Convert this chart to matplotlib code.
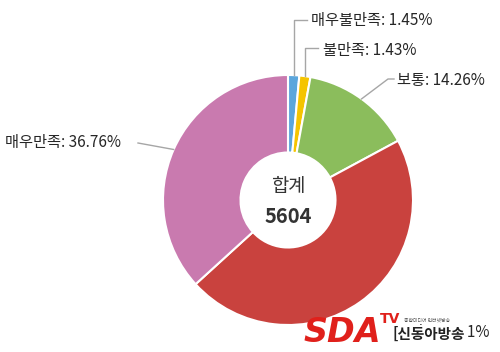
import numpy as np
import matplotlib
matplotlib.use("Agg")
from matplotlib import pyplot as plt

plt.rcParams['font.family'] = ['Noto Sans CJK KR', 'DejaVu Sans']

labels = ['매우불만족', '불만족', '보통', '만족', '매우만족']
values = [1.45, 1.43, 14.26, 46.10, 36.76]
pct_text = ['1.45%', '1.43%', '14.26%', '46.1%', '36.76%']
colors = ['#5ba6dc', '#f5c400', '#8bbd5c', '#c9423e', '#c97aaf']
total = 5604

W, H = 500, 352
fig = plt.figure(figsize=(W / 100, H / 100), dpi=100)

def fx(px):
    return px / W

def fy(py):
    return 1 - py / H

# pie centre (288, 200) px, radius 125 px
cx, cy, r = 288, 200, 125
ax = fig.add_axes([fx(cx - r), fy(cy + r), 2 * r / W, 2 * r / H])
wedges, _ = ax.pie(values, colors=colors, startangle=90, counterclock=False,
                   radius=1, wedgeprops=dict(width=0.62, edgecolor='white', linewidth=1.5))
ax.set_xlim(-1, 1)
ax.set_ylim(-1, 1)
ax.set_aspect('auto')
ax.axis('off')

# centre text
ax.text(0, 0.11, '합계', ha='center', va='center', fontsize=13.5, color='#333333')
ax.text(0, -0.13, f'{total}', ha='center', va='center', fontsize=14.5,
        fontweight='bold', color='#333333')

def anchor(i, rr=1.0):
    w = wedges[i]
    a = np.deg2rad((w.theta1 + w.theta2) / 2)
    p = ax.transData.transform((rr * np.cos(a), rr * np.sin(a)))
    return fig.transFigure.inverted().transform(p)

line_kw = dict(color='#a6a6a6', lw=1, transform=fig.transFigure)
txt_kw = dict(fontsize=11, color='#262626', va='center', fontweight='medium',
              transform=fig.transFigure)

# 매우불만족
a = anchor(0, 1.0)
fig.add_artist(plt.Line2D([a[0], a[0], fx(307)], [a[1], fy(20), fy(20)], **line_kw))
fig.text(fx(311), fy(21), f'{labels[0]}: {pct_text[0]}', ha='left', **txt_kw)
# 불만족
a = anchor(1, 1.0)
fig.add_artist(plt.Line2D([a[0], a[0], fx(318)], [a[1], fy(48), fy(48)], **line_kw))
fig.text(fx(323), fy(50), f'{labels[1]}: {pct_text[1]}', ha='left', **txt_kw)
# 보통
a = anchor(2, 1.0)
fig.add_artist(plt.Line2D([a[0], fx(388), fx(394)], [a[1], fy(79), fy(79)], **line_kw))
fig.text(fx(397), fy(81), f'{labels[2]}: {pct_text[2]}', ha='left', **txt_kw)
# 만족
fig.text(fx(489), fy(333), f'{labels[3]}: {pct_text[3]}', ha='right', **txt_kw)
# 매우만족
a = anchor(4, 1.0)
fig.add_artist(plt.Line2D([fx(138), a[0]], [fy(143), a[1]], **line_kw))
fig.text(fx(5), fy(143), f'{labels[4]}: {pct_text[4]}', ha='left', **txt_kw)

# watermark logo
fig.text(fx(303), fy(332), 'SDA', fontsize=24, fontweight='bold', fontstyle='italic',
         color='#e0201b', ha='left', va='center', family='DejaVu Sans')
fig.text(fx(380), fy(319), 'TV', fontsize=10, fontweight='bold', color='#e0201b',
         ha='left', va='center', family='DejaVu Sans')
fig.text(fx(404), fy(320), '종합미디어 인터넷방송', fontsize=3.5, color='#555555',
         ha='left', va='center')
fig.text(fx(392), fy(334), '[신동아방송', fontsize=10.5, fontweight='bold', color='#222222',
         ha='left', va='center',
         bbox=dict(facecolor='white', edgecolor='none', pad=1))

fig.savefig('out.png', dpi=100, facecolor='white')
